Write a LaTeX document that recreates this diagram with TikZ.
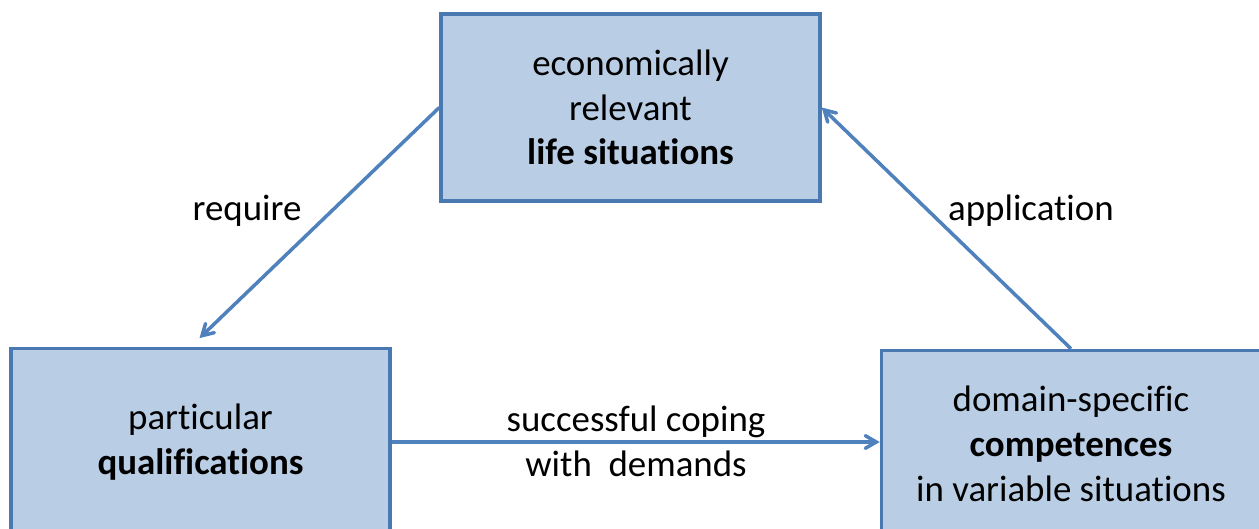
\documentclass[tikz,border=0pt]{standalone}
\usepackage{fontspec}
\setmainfont{Carlito}[RawFeature={-liga;-clig;-calt;-dlig}]
\usetikzlibrary{arrows}
\definecolor{boxfill}{HTML}{B9CDE5}
\definecolor{boxline}{HTML}{4A78B0}
\definecolor{arrline}{HTML}{4F81BD}
\tikzset{
  sitbox/.style = {draw=boxline, fill=boxfill, line width=2pt,
    align=center, text centered, minimum width=7.58cm, minimum height=3.74cm,
    inner sep=0pt, font=\fontsize{21}{25.5}\selectfont},% box for the triangle
  lbl/.style = {align=center, inner sep=0pt,
    font=\fontsize{21}{25.5}\selectfont},% arrow label
  arr/.style = {->, draw=arrline, line width=2pt},
}
\begin{document}
\begin{tikzpicture}[x=0.02cm, y=-0.02cm, >=angle 60]
\useasboundingbox (0,0) rectangle (1259,528);
\clip (0,0) rectangle (1259,528);
\node [sitbox] (life) at (630.5,107.5) {economically\\relevant\\\textbf{life situations}};
\node [sitbox] (qual) at (200.5,442) {particular\\\textbf{qualifications}};
\node [sitbox] (comp) at (1071,444) {domain-specific\\\textbf{competences}\\in variable situations};
\draw [arr, shorten >=0.25cm] (life.west) -- ([xshift=-0.2cm]qual.north);
\draw [arr] (comp.north) -- (life.east);
\draw [arr] (qual.east) -- (comp.west |- qual.east);
\node [lbl] (req) at (247,211) {require};
\node [lbl] (app) at (1031,211) {application};
\node [lbl] (cope) at (636,441) {successful coping\\with\ \ demands};
\end{tikzpicture}
\end{document}
